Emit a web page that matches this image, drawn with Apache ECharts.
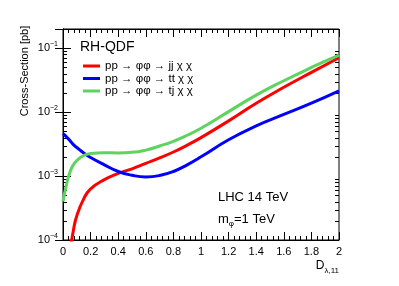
<!DOCTYPE html>
<html><head><meta charset="utf-8">
<script src="https://cdn.jsdelivr.net/npm/echarts@6/dist/echarts.min.js"></script>
<style>html,body{margin:0;padding:0;background:#fff}#c{width:399px;height:286px}</style>
</head><body><div id="c"></div>
<script>
const dValues = [0, 0.025, 0.05, 0.075, 0.1, 0.15, 0.2, 0.3, 0.4, 0.5, 0.6, 0.7, 0.8, 0.9, 1.0, 1.2, 1.4, 1.6, 1.8, 2.0];
const jjValues = [null, null, 6.5e-5, 1.4e-4, 2.4e-4, 4.4e-4, 6.3e-4, 8.8e-4, 1.1e-3, 1.3e-3, 1.58e-3, 1.92e-3, 2.38e-3, 3.05e-3, 4.0e-3, 7.3e-3, 1.38e-2, 2.45e-2, 4.2e-2, 7.1e-2];
const ttValues = [4.6e-3, 4.1e-3, 3.6e-3, 3.1e-3, 2.8e-3, 2.3e-3, 1.95e-3, 1.5e-3, 1.18e-3, 1.03e-3, 9.7e-4, 1.02e-3, 1.18e-3, 1.5e-3, 2.0e-3, 3.7e-3, 6.1e-3, 9.2e-3, 1.38e-2, 2.15e-2];
const tjValues = [4.0e-4, 7.3e-4, 1.15e-3, 1.5e-3, 1.75e-3, 2.1e-3, 2.25e-3, 2.32e-3, 2.3e-3, 2.35e-3, 2.55e-3, 2.95e-3, 3.5e-3, 4.35e-3, 5.6e-3, 1.02e-2, 1.85e-2, 3.1e-2, 5.0e-2, 7.8e-2];
const seriesNames = ['pp \u2192 \u03c6\u03c6 \u2192 jj \u03c7 \u03c7', 'pp \u2192 \u03c6\u03c6 \u2192 tt \u03c7 \u03c7', 'pp \u2192 \u03c6\u03c6 \u2192 tj \u03c7 \u03c7'];
const yMinorTicks = [2e-4,3e-4,4e-4,5e-4,6e-4,7e-4,8e-4,9e-4,2e-3,3e-3,4e-3,5e-3,6e-3,7e-3,8e-3,9e-3,2e-2,3e-2,4e-2,5e-2,6e-2,7e-2,8e-2,9e-2];
const yMin = 1e-4, yMax = 0.2, xMin = 0, xMax = 2, xStep = 0.2;

const FONT = 'Liberation Sans';
const pair = (ys) => dValues.map((d, i) => [d, ys[i]]);
const ylabel = (v) => {
  const e = Math.round(Math.log10(v));
  if (Math.abs(v - Math.pow(10, e)) / v > 1e-6) return '';
  return '{b|10}{s|' + (e < 0 ? '\u2212' : '') + Math.abs(e) + '}';
};
const chart = echarts.init(document.getElementById('c'));
const axisCommon = {
  axisLine: {show: true, lineStyle: {color: '#000', width: 1}},
  splitLine: {show: false}
};
chart.setOption({
  animation: false,
  textStyle: {fontFamily: FONT},
  grid: {left: 63, right: 60, top: 29, bottom: 46, show: true, borderColor: '#000', borderWidth: 1},
  legend: {
    orient: 'vertical', left: 83, top: 60, itemWidth: 17, itemHeight: 3, itemGap: 0.5, padding: 0,
    icon: 'rect',
    textStyle: {fontFamily: FONT, fontSize: 11.5, color: '#000', lineHeight: 12},
    data: seriesNames
  },
  xAxis: [
    Object.assign({type: 'value', min: xMin, max: xMax, interval: xStep,
      axisTick: {inside: true, length: 8, lineStyle: {color: '#000'}},
      minorTick: {show: true, splitNumber: 5, length: 4, lineStyle: {color: '#000'}},
      axisLabel: {fontFamily: FONT, fontSize: 11, color: '#000', margin: 6}}, axisCommon),
    Object.assign({type: 'value', min: xMin, max: xMax, interval: xStep, position: 'top',
      axisTick: {inside: true, length: 8, lineStyle: {color: '#000'}},
      minorTick: {show: true, splitNumber: 5, length: 4, lineStyle: {color: '#000'}},
      axisLabel: {show: false}}, axisCommon)
  ],
  yAxis: [
    Object.assign({type: 'log', min: yMin, max: yMax, logBase: 10,
      axisTick: {inside: true, length: 8, lineStyle: {color: '#000'}},
      axisLabel: {formatter: ylabel, showMaxLabel: false, margin: 5,
        rich: {b: {fontFamily: FONT, fontSize: 11, color: '#000'},
               s: {fontFamily: FONT, fontSize: 7, color: '#000', verticalAlign: 'top', padding: [0,0,8,0]}}}}, axisCommon),
    Object.assign({type: 'log', min: yMin, max: yMax, logBase: 10, position: 'right',
      axisTick: {inside: true, length: 8, lineStyle: {color: '#000'}},
      axisLabel: {show: false}}, axisCommon)
  ],
  series: [
    {name: seriesNames[0], type: 'line', data: pair(jjValues), smooth: 0.5, showSymbol: false, clip: true,
     lineStyle: {color: '#ff0000', width: 3}, itemStyle: {color: '#ff0000'}},
    {name: seriesNames[1], type: 'line', data: pair(ttValues), smooth: 0.5, showSymbol: false, clip: true,
     lineStyle: {color: '#0000ff', width: 3}, itemStyle: {color: '#0000ff'}},
    {name: seriesNames[2], type: 'line', data: pair(tjValues), smooth: 0.5, showSymbol: false, clip: true,
     lineStyle: {color: '#5fd35f', width: 3}, itemStyle: {color: '#5fd35f'}},
    {type: 'custom', silent: true, data: yMinorTicks.map(v => [0, v]),
     renderItem: function (params, api) {
       const p = api.coord([0, api.value(1)]);
       const cs = params.coordSys;
       const y = Math.round(p[1]) + 0.5;
       return {type: 'group', children: [
         {type: 'line', shape: {x1: cs.x, y1: y, x2: cs.x + 4, y2: y}, style: {stroke: '#000', lineWidth: 1}},
         {type: 'line', shape: {x1: cs.x + cs.width - 4, y1: y, x2: cs.x + cs.width, y2: y}, style: {stroke: '#000', lineWidth: 1}}
       ]};
     }}
  ],
  graphic: [
    {type: 'text', x: 25, y: 71, rotation: Math.PI / 2,
     style: {text: 'Cross-Section [pb]', font: '11px "Liberation Sans"', fill: '#000', align: 'center', verticalAlign: 'middle'}},
    {type: 'text', x: 339, y: 266,
     style: {text: '{d|D}{s|\u03bb,11}', align: 'right', verticalAlign: 'middle',
       rich: {d: {fontFamily: FONT, fontSize: 12, fill: '#000'}, s: {fontFamily: FONT, fontSize: 8, fill: '#000', padding: [9,0,0,0]}}}},
    {type: 'text', x: 80, y: 47,
     style: {text: 'RH-QDF', font: '14px "Liberation Sans"', fill: '#000', verticalAlign: 'middle'}},
    {type: 'text', x: 218, y: 197,
     style: {text: 'LHC 14 TeV', font: '13px "Liberation Sans"', fill: '#000', verticalAlign: 'middle'}},
    {type: 'text', x: 218, y: 219,
     style: {text: '{m|m}{s|\u03c6}{m|=1 TeV}', verticalAlign: 'middle',
       rich: {m: {fontFamily: FONT, fontSize: 13, fill: '#000'}, s: {fontFamily: FONT, fontSize: 8, fill: '#000', padding: [9,0,0,0]}}}}
  ]
});
</script></body></html>
